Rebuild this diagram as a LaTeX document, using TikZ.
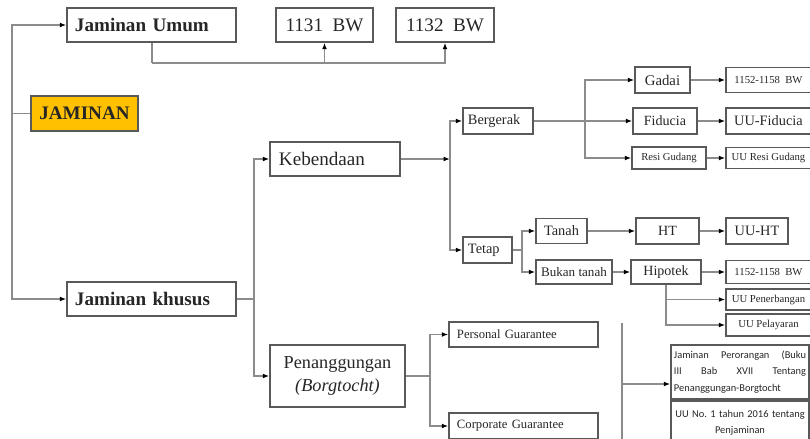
\documentclass[tikz,border=0pt]{standalone}
\usepackage{fontspec}
\setmainfont{Liberation Serif}
\newfontfamily\calibfont{Carlito}
\usetikzlibrary{positioning,arrows.meta}
\definecolor{jamgold}{HTML}{FFC000}
\definecolor{boxline}{HTML}{595959}
\definecolor{wiregray}{HTML}{8C8C8C}
\definecolor{ink}{HTML}{262626}
\tikzset{
  box/.style={draw=boxline, line width=1.1pt, text=ink, inner sep=0pt, align=center},
  lbox/.style={box, align=left, inner xsep=0.2cm},
  wire/.style={draw=wiregray, line width=0.8pt},
  arr/.style={wire, -{Latex[length=4.5pt,width=3.4pt,color=black]}},
  big/.style={font=\fontsize{13.6}{16}\selectfont},
  mid/.style={font=\fontsize{10.2}{12}\selectfont},
  small/.style={font=\fontsize{7.6}{9}\selectfont},
  sans/.style={font=\calibfont\frenchspacing\fontsize{7.4}{11.7}\selectfont}
}
\begin{document}
\begin{tikzpicture}[x=0.025cm, y=-0.025cm]
\useasboundingbox (0,0) rectangle (810,439);

% left column
\node[box, big, fill=jamgold, minimum width=2.675cm, minimum height=0.875cm] (jaminan) at (84.5,113.5) {\textbf{JAMINAN}};
\node[lbox, big, text width=3.825cm, minimum height=0.85cm] (umum) at (151.5,25) {\textbf{Jaminan Umum}};
\node[lbox, big, text width=3.825cm, minimum height=0.85cm] (khusus) at (151.5,299) {\textbf{Jaminan khusus}};
\node[box, big, minimum width=2.425cm, minimum height=0.85cm] (bw1131) at (324.5,25) {1131\ \ BW};
\node[box, big, minimum width=2.45cm, minimum height=0.85cm] (bw1132) at (445,25) {1132\ \ BW};

% jaminan khusus
\node[lbox, big, inner xsep=0.225cm, text width=2.8cm, minimum height=0.85cm] (kebendaan) at (335,159) {Kebendaan};
\node[box, font=\fontsize{13}{16.4}\selectfont, minimum width=3.375cm, minimum height=1.55cm] (penang) at (337.5,376) {Penanggungan\\\textit{(Borgtocht)}};

% kebendaan
\node[lbox, mid, inner xsep=0.125cm, text width=1.5cm, minimum height=0.65cm] (bergerak) at (498,121) {Bergerak};
\node[lbox, mid, inner xsep=0.125cm, text width=0.975cm, minimum height=0.65cm] (tetap) at (487.5,250) {Tetap};
\node[box, font=\fontsize{10.5}{12}\selectfont, minimum width=1.375cm, minimum height=0.65cm] (gadai) at (662.5,80) {Gadai};
\node[box, font=\fontsize{10}{12}\selectfont, minimum width=1.6cm, minimum height=0.65cm] (fiducia) at (665,121) {Fiducia};
\node[box, small, minimum width=1.85cm, minimum height=0.55cm] (resi) at (669,158) {Resi Gudang};
\node[box, small, minimum width=2.125cm, minimum height=0.625cm] (bwgadai) at (768.5,80) {1152-1158\ \ BW};
\node[box, font=\fontsize{10.2}{12}\selectfont, minimum width=2.125cm, minimum height=0.65cm] (uufid) at (768.5,121) {UU-Fiducia};
\node[box, small, minimum width=2.125cm, minimum height=0.525cm] (uuresi) at (768.5,158) {UU Resi Gudang};

% tetap
\node[box, mid, minimum width=1.275cm, minimum height=0.625cm] (tanah) at (561.5,231) {Tanah};
\node[box, font=\fontsize{9.3}{11}\selectfont, minimum width=1.9cm, minimum height=0.6cm] (bukan) at (574,272) {Bukan tanah};
\node[box, font=\fontsize{10}{12}\selectfont, minimum width=1.575cm, minimum height=0.65cm] (ht) at (667.5,231) {HT};
\node[box, font=\fontsize{10.2}{12}\selectfont, minimum width=1.55cm, minimum height=0.65cm] (uuht) at (757,231) {UU-HT};
\node[box, font=\fontsize{10}{12}\selectfont, minimum width=1.75cm, minimum height=0.6cm] (hipotek) at (666,272) {Hipotek};
\node[box, small, minimum width=2.125cm, minimum height=0.575cm] (bwhip) at (768.5,272) {1152-1158\ \ BW};
\node[box, small, minimum width=2.125cm, minimum height=0.525cm] (uupen) at (768.5,299.5) {UU Penerbangan};
\node[box, small, minimum width=2.125cm, minimum height=0.55cm] (uupel) at (768.5,325) {UU Pelayaran};

% penanggungan
\node[lbox, font=\fontsize{9}{11}\selectfont, text width=3.325cm, minimum height=0.625cm] (personal) at (523.5,334.5) {Personal Guarantee};
\node[lbox, font=\fontsize{9}{11}\selectfont, text width=3.325cm, minimum height=0.65cm] (corporate) at (523.5,426) {Corporate Guarantee};
\node[box, sans, align=justify, inner xsep=0.075cm, text width=3.3cm, minimum height=1.35cm] (perorangan) at (740,372) {Jaminan Perorangan (Buku\linebreak III Bab XVII Tentang\linebreak Penanggungan-Borgtocht};
\node[box, sans, inner xsep=0.075cm, text width=3.3cm, minimum height=1.1cm] (uuno) at (740,423) {UU No. 1 tahun 2016 tentang\\Penjaminan};

% connectors
\draw[wire] (jaminan.west) -- (12,113.5) coordinate (spine);
\draw[arr] (spine) |- (umum.west);
\draw[arr] (spine) |- (khusus.west);
\coordinate (ubus) at (152,63);
\draw[wire] (umum.south -| ubus) -- (ubus);
\draw[arr] (ubus) -| (bw1131.south);
\draw[arr] (ubus) -| (bw1132.south);

\draw[wire] (khusus.east) -- (254,299) coordinate (kbus);
\draw[arr] (kbus) |- (kebendaan.west);
\draw[arr] (kbus) |- (penang.west);

\draw[arr] (kebendaan.east) -- (450,159) coordinate (kebus);
\draw[arr] (kebus) |- (bergerak.west);
\draw[arr] (kebus) |- (tetap.west);

\draw[arr] (bergerak.east) -- (fiducia.west);
\coordinate (bbus) at (585,121);
\draw[arr] (bbus) |- (gadai.west);
\draw[arr] (bbus) |- (resi.west);
\draw[arr] (gadai) -- (bwgadai);
\draw[arr] (fiducia) -- (uufid);
\draw[arr] (resi) -- (uuresi);

\draw[wire] (tetap.east) -- (522,250) coordinate (tbus);
\draw[arr] (tbus) |- (tanah.west);
\draw[arr] (tbus) |- (bukan.west);
\draw[arr] (tanah) -- (ht);
\draw[arr] (ht) -- (uuht);
\draw[arr] (bukan) -- (hipotek);
\draw[arr] (hipotek) -- (bwhip);
\draw[arr] (hipotek.south) |- (uupel.west);
\draw[arr] (hipotek.south |- uupen.west) -- (uupen.west);

\draw[wire] (penang.east) -- (430,376) coordinate (pbus);
\draw[arr] (pbus) |- (personal.west);
\draw[arr] (pbus) |- (corporate.west);

\coordinate (gtop) at (622,323);
\coordinate (gbot) at (622,439);
\coordinate (gbus) at (622,384);
\draw[wire] (gtop) -- (gbot);
\draw[arr] (gbus) -- (gbus -| perorangan.west);
\end{tikzpicture}
\end{document}
